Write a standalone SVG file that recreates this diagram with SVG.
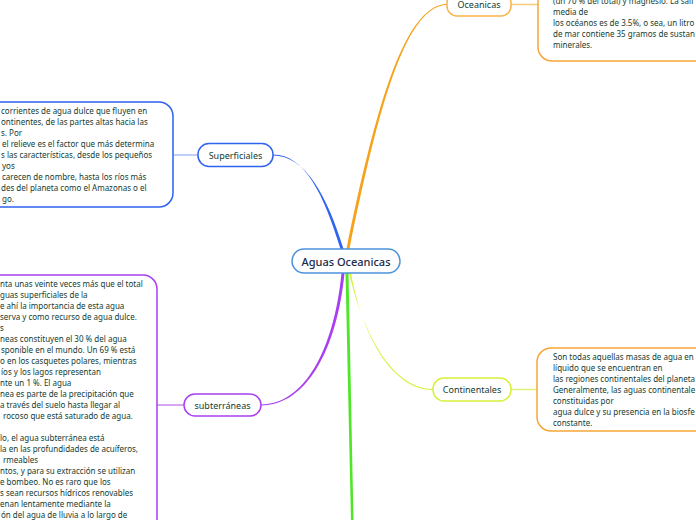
<svg xmlns="http://www.w3.org/2000/svg" width="696" height="520" viewBox="0 0 696 520">
<style>
.bg{fill:#ffffff}
.box{fill:#ffffff;stroke-width:1.5}
.lbl{font-family:"Noto Sans","Open Sans",sans-serif;font-size:9px;fill:#143c32;text-anchor:middle;dominant-baseline:central}
.body{font-family:"Noto Sans","Open Sans",sans-serif;font-size:8px;fill:#143c32;white-space:pre}
.main{font-family:"Noto Sans","Open Sans",sans-serif;font-size:11px;font-weight:500;fill:#1b2a4a;text-anchor:middle;dominant-baseline:central}
.thin{fill:none;stroke-width:1.5}
</style>
<rect class="bg" x="0" y="0" width="696" height="520"/>
<g id="connectors">
  <path d="M340.5 249 C324 195 305 154.5 273 154.5 L273 155.5 C305 155.5 327 195 343.5 249 Z" fill="#2f63f0"/>
  <path d="M346.5 249 C372 125 402 4 447 4 L447 5 C403 5 375 125 349.5 249 Z" fill="#f5a21c"/>
  <path d="M341.5 273 C334 350 304 404.5 261 404.5 L261 405.5 C306 405.5 337 350 344.5 273 Z" fill="#a93ff0"/>
  <path d="M349 273 C365 340 395 389 433 389 L433 390 C394 390 363 340 351 273 Z" fill="#d8f03a"/>
  <path d="M345.5 273 L351 522 L353.5 522 L348.5 273 Z" fill="#4fe62a"/>
  <line class="thin" x1="173" y1="155" x2="198" y2="155" stroke="#a9c1f7"/>
  <line class="thin" x1="157" y1="405" x2="184" y2="405" stroke="#c98af5"/>
  <line class="thin" x1="511" y1="389.5" x2="537" y2="389.5" stroke="#e2f27a"/>
  <line class="thin" x1="511" y1="4.5" x2="538" y2="4.5" stroke="#fcc97a"/>
</g>
<g id="central">
  <rect class="box" x="292" y="249" width="108" height="24" rx="12" stroke="#4a92dc"/>
  <text class="main" x="346" y="261">Aguas Oceanicas</text>
</g>
<g id="superficiales">
  <rect class="box" x="198" y="143.5" width="75" height="23" rx="11" stroke="#2f63f0"/>
  <text class="lbl" x="235.5" y="155">Superficiales</text>
</g>
<g id="superficiales-text">
  <rect class="box" x="-30" y="102" width="203" height="105" rx="14" stroke="#2f63f0"/>
  <text class="body" x="1" y="114">corrientes de agua dulce que fluyen en</text>
  <text class="body" x="1" y="125">ontinentes, de las partes altas hacia las</text>
  <text class="body" x="1" y="136">s. Por</text>
  <text class="body" x="2" y="147">el relieve es el factor que más determina</text>
  <text class="body" x="1" y="158">s las características, desde los pequeños</text>
  <text class="body" x="2" y="169">yos</text>
  <text class="body" x="2" y="180">carecen de nombre, hasta los ríos más</text>
  <text class="body" x="1" y="191">des del planeta como el Amazonas o el</text>
  <text class="body" x="2" y="202">go.</text>
</g>
<g id="subterraneas">
  <rect class="box" x="184" y="394" width="77" height="22" rx="11" stroke="#a93ff0"/>
  <text class="lbl" x="222.5" y="405">subterráneas</text>
</g>
<g id="subterraneas-text">
  <rect class="box" x="-30" y="275" width="187" height="280" rx="14" stroke="#a93ff0"/>
  <text class="body" x="0" y="287">nta unas veinte veces más que el total</text>
  <text class="body" x="0" y="298">guas superficiales de la</text>
  <text class="body" x="0" y="309">e ahí la importancia de esta agua</text>
  <text class="body" x="0" y="320">serva y como recurso de agua dulce.</text>
  <text class="body" x="0" y="331">s</text>
  <text class="body" x="0" y="342">neas constituyen el 30 % del agua</text>
  <text class="body" x="1" y="353">sponible en el mundo. Un 69 % está</text>
  <text class="body" x="0" y="364">o en los casquetes polares, mientras</text>
  <text class="body" x="1" y="375">íos y los lagos representan</text>
  <text class="body" x="0" y="386">nte un 1 %. El agua</text>
  <text class="body" x="0" y="397">nea es parte de la precipitación que</text>
  <text class="body" x="0" y="408">a través del suelo hasta llegar al</text>
  <text class="body" x="3" y="419">rocoso que está saturado de agua.</text>
  <text class="body" x="0" y="441">lo, el agua subterránea está</text>
  <text class="body" x="0" y="452">la en las profundidades de acuíferos,</text>
  <text class="body" x="3" y="463">rmeables</text>
  <text class="body" x="0" y="474">ntos, y para su extracción se utilizan</text>
  <text class="body" x="0" y="485">e bombeo. No es raro que los</text>
  <text class="body" x="0" y="496">s sean recursos hídricos renovables</text>
  <text class="body" x="0" y="507">enan lentamente mediante la</text>
  <text class="body" x="1" y="518">ón del agua de lluvia a lo largo de</text>
</g>
<g id="continentales">
  <rect class="box" x="433" y="378" width="78" height="23" rx="11" stroke="#d8f03a"/>
  <text class="lbl" x="472" y="389.5">Continentales</text>
</g>
<g id="continentales-text">
  <rect class="box" x="537" y="348" width="200" height="83" rx="14" stroke="#f7a637"/>
  <text class="body" x="553" y="360">Son todas aquellas masas de agua en</text>
  <text class="body" x="553" y="371">líquido que se encuentran en</text>
  <text class="body" x="553" y="382">las regiones continentales del planeta</text>
  <text class="body" x="553" y="393">Generalmente, las aguas continentale</text>
  <text class="body" x="553" y="404">constituidas por</text>
  <text class="body" x="553" y="415">agua dulce y su presencia en la biosfe</text>
  <text class="body" x="553" y="426">constante.</text>
</g>
<g id="oceanicas">
  <rect class="box" x="447" y="-7" width="64" height="23" rx="10" stroke="#f7b24a"/>
  <text class="lbl" x="479" y="4.5">Oceanicas</text>
</g>
<g id="oceanicas-text">
  <rect class="box" x="538" y="-40" width="200" height="101" rx="14" stroke="#f7a637"/>
  <text class="body" x="553" y="4">(un 70 % del total) y magnesio. La sali</text>
  <text class="body" x="553" y="14.5">media de</text>
  <text class="body" x="553" y="26">los océanos es de 3.5%, o sea, un litro</text>
  <text class="body" x="553" y="37">de mar contiene 35 gramos de sustan</text>
  <text class="body" x="553" y="48">minerales.</text>
</g>
</svg>
